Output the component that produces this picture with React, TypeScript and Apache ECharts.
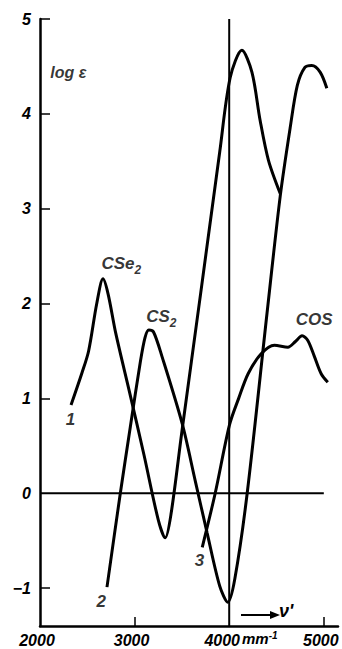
import React, { useEffect, useRef } from 'react';
import * as echarts from 'echarts';

// Curve 1 : CSe2
const cse2X = [2328, 2444, 2514, 2600, 2666, 2720, 2800, 2950, 3100, 3250, 3324, 3385, 3500, 3700, 3900, 4010, 4134, 4240, 4327, 4415, 4539];
const cse2Y = [0.93, 1.27, 1.5, 2.0, 2.26, 2.1, 1.69, 1.05, 0.40, -0.28, -0.47, -0.22, 0.65, 2.12, 3.6, 4.38, 4.67, 4.44, 3.93, 3.51, 3.16];

// Curve 2 : CS2
const cs2X = [2708, 2849, 2955, 3060, 3110, 3150, 3200, 3290, 3504, 3641, 3767, 3900, 3985, 4060, 4190, 4400, 4539, 4644, 4720, 4800, 4873, 4961, 5032];
const cs2Y = [-0.99, 0.0, 0.7, 1.38, 1.64, 1.72, 1.70, 1.44, 0.73, 0.13, -0.42, -0.98, -1.15, -0.9, 0.0, 1.9, 3.13, 3.85, 4.3, 4.49, 4.51, 4.44, 4.27];

// Curve 3 : COS
const cosX = [3715, 3852, 4003, 4100, 4200, 4338, 4478, 4620, 4700, 4770, 4831, 4901, 4972, 5042];
const cosY = [-0.57, 0.0, 0.72, 1.0, 1.26, 1.47, 1.56, 1.54, 1.6, 1.66, 1.61, 1.44, 1.26, 1.17];

// Reference lines
const zeroLineX = [2000, 5000];
const zeroLineY = [0, 0];
const markerLineX = [4000, 4000];
const markerLineY = [-1.4, 5];

// Axis ticks / labels
const X_LABELS = [2000, 3000, 4000, 5000];
const X_TICKS = [3000, 5000];
const Y_LABELS = [-1, 0, 1, 2, 3, 4, 5];
const Y_TICKS = [-1, 1, 2, 3, 4, 5];

// Curve annotations
const noteText = ['CSe2', 'CS2', 'COS', '1', '2', '3', 'log ε'];
const noteX = [2860, 3283, 4898, 2321, 2648, 3685, 2300];
const noteY = [2.44, 1.88, 1.85, 0.79, -1.13, -0.69, 4.44];

const FONT = 'Liberation Sans, Arial, sans-serif';

export default function App() {
  const ref = useRef<HTMLDivElement>(null);
  useEffect(() => {
    const chart = echarts.init(ref.current!, null, { renderer: 'svg' });
    const font = { fontFamily: FONT, fontStyle: 'italic', fontWeight: 'bold', color: '#000' };
    const zip = (xs: number[], ys: number[]) => xs.map((x, i) => [x, ys[i]]);
    const curve = (name: string, xs: number[], ys: number[]) => ({
      name,
      type: 'line',
      data: zip(xs, ys),
      smooth: 0.3,
      showSymbol: false,
      symbol: 'none',
      lineStyle: { color: '#000', width: 3 },
      z: 3,
    });
    const ref2 = (xs: number[], ys: number[]) => ({
      type: 'line',
      data: zip(xs, ys),
      showSymbol: false,
      symbol: 'none',
      lineStyle: { color: '#000', width: 2 },
      z: 2,
    });
    chart.setOption({
      animation: false,
      backgroundColor: '#fff',
      grid: { left: 40, right: 4, top: 19, bottom: 23, containLabel: false, outerBoundsMode: 'none' },
      xAxis: {
        type: 'value',
        min: 2000,
        max: 5150,
        splitLine: { show: false },
        axisLine: { show: true, onZero: false, lineStyle: { color: '#000', width: 2.5 } },
        axisTick: { show: true, inside: true, length: 9, customValues: X_TICKS, lineStyle: { color: '#000', width: 1.5 } },
        axisLabel: {
          customValues: X_LABELS,
          margin: 6,
          formatter: (v: number) => (v === 4000 ? '{w|' + v + '}' : '{n|' + v + '}'),
          rich: {
            n: { ...font, fontSize: 16, padding: [0, 6, 0, 0] },
            w: { ...font, fontSize: 16, padding: [0, 14, 0, 0] },
          },
        },
      },
      yAxis: {
        type: 'value',
        min: -1.4,
        max: 5,
        splitLine: { show: false },
        axisLine: { show: true, onZero: false, lineStyle: { color: '#000', width: 2.5 } },
        axisTick: { show: true, inside: true, length: 10, customValues: Y_TICKS, lineStyle: { color: '#000', width: 1.5 } },
        axisLabel: {
          customValues: Y_LABELS,
          ...font,
          fontSize: 16,
          margin: 9,
          formatter: (v: number) => (v < 0 ? '\u2212' + Math.abs(v) : String(v)),
        },
      },
      series: [
        ref2(zeroLineX, zeroLineY),
        ref2(markerLineX, markerLineY),
        curve('CSe2', cse2X, cse2Y),
        curve('CS2', cs2X, cs2Y),
        curve('COS', cosX, cosY),
        {
          type: 'scatter',
          symbolSize: 1,
          itemStyle: { color: 'rgba(0,0,0,0)' },
          data: noteText.map((t, i) => ({ value: [noteX[i], noteY[i]], name: t })),
          label: {
            show: true,
            position: 'inside',
            formatter: (p: any) => {
              const n = p.name as string;
              if (n === 'CSe2') return '{m|CSe}{s|2}';
              if (n === 'CS2') return '{m|CS}{s|2}';
              if (n === 'log ε') return '{l|log ε}';
              return '{m|' + n + '}';
            },
            rich: {
              m: { ...font, fontSize: 17, lineHeight: 20, verticalAlign: 'bottom' },
              s: { ...font, fontSize: 12, lineHeight: 20, verticalAlign: 'bottom', padding: [0, 0, -4, 0] },
              l: { ...font, fontSize: 16 },
            },
          },
          z: 5,
        },
      ],
      graphic: [
        { type: 'line', shape: { x1: 241, y1: 615, x2: 272, y2: 615 }, style: { stroke: '#000', lineWidth: 2 } },
        { type: 'polygon', shape: { points: [[270, 611], [280, 615], [270, 619]] }, style: { fill: '#000' } },
        { type: 'text', left: 279, top: 602, style: { text: "ν'", font: 'italic bold 18px ' + FONT, fill: '#000' } },
        {
          type: 'text',
          left: 242,
          top: 630,
          style: {
            text: '{a|mm}{b|-1}',
            rich: {
              a: { fontFamily: FONT, fontStyle: 'italic', fontWeight: 'bold', fontSize: 15, fill: '#000', verticalAlign: 'bottom', lineHeight: 16 },
              b: { fontFamily: FONT, fontStyle: 'italic', fontWeight: 'bold', fontSize: 10, fill: '#000', verticalAlign: 'top', lineHeight: 16 },
            },
          },
        },
      ],
    });
    return () => chart.dispose();
  }, []);
  return <div ref={ref} style={{ position: 'fixed', left: 0, top: 0, width: 342, height: 649 }} />;
}
